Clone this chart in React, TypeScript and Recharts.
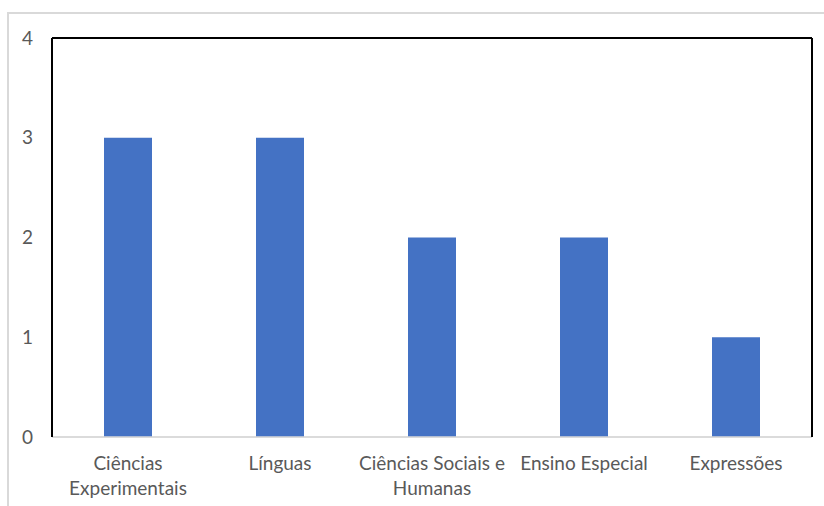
import React from 'react';
import { BarChart, Bar, XAxis, YAxis, CartesianGrid, ReferenceLine } from 'recharts';

// Subject areas and counts
const subjects = [
  'Ciências\nExperimentais',
  'Línguas',
  'Ciências Sociais e\nHumanas',
  'Ensino Especial',
  'Expressões',
];
const counts = [3, 3, 2, 2, 1];
const yTicks = [0, 1, 2, 3, 4];

const data = subjects.map((subject, i) => ({ subject, count: counts[i] }));

const FONT = 'Lato, "Open Sans", sans-serif';
const TEXT = '#595959';
const FONT_SIZE = 19;

function SubjectTick({ x, y, payload }: any) {
  const lines = String(payload.value).split('\n');
  return (
    <text x={x} y={y} textAnchor="middle" fill={TEXT} fontSize={FONT_SIZE} fontFamily={FONT}>
      {lines.map((line, i) => (
        <tspan key={i} x={x} y={y + 31 + i * 25}>
          {line}
        </tspan>
      ))}
    </text>
  );
}

export default function App() {
  return (
    <div style={{ position: 'absolute', left: 0, top: 0, width: 824, height: 506, background: '#fff' }}>
      <div
        style={{
          position: 'absolute',
          left: 7,
          top: 12,
          right: 0,
          bottom: 0,
          borderLeft: '2px solid #d9d9d9',
          borderTop: '2px solid #d9d9d9',
        }}
      />
      <BarChart
        width={824}
        height={506}
        data={data}
        margin={{ top: 38, right: 0, bottom: 0, left: 0 }}
        style={{ position: 'absolute', left: 0, top: 0 }}
      >
        <CartesianGrid vertical={false} stroke="#d9d9d9" strokeWidth={1.5} />
        <XAxis
          dataKey="subject"
          height={69}
          interval={0}
          tickLine={false}
          tickSize={0}
          axisLine={{ stroke: '#d9d9d9', strokeWidth: 1.5 }}
          tick={<SubjectTick />}
        />
        <YAxis
          yAxisId="left"
          width={52}
          domain={[0, 4]}
          ticks={yTicks}
          tickLine={false}
          tickSize={0}
          tickMargin={19}
          axisLine={{ stroke: '#000', strokeWidth: 2 }}
          tick={{ fill: TEXT, fontSize: FONT_SIZE, fontFamily: FONT }}
        />
        <YAxis
          yAxisId="right"
          orientation="right"
          width={12}
          domain={[0, 4]}
          ticks={yTicks}
          tick={false}
          tickLine={false}
          axisLine={{ stroke: '#000', strokeWidth: 2 }}
        />
        <ReferenceLine yAxisId="left" y={4} stroke="#000" strokeWidth={2} />
        <Bar yAxisId="left" dataKey="count" fill="#4472c4" barSize={48} isAnimationActive={false} />
      </BarChart>
    </div>
  );
}
